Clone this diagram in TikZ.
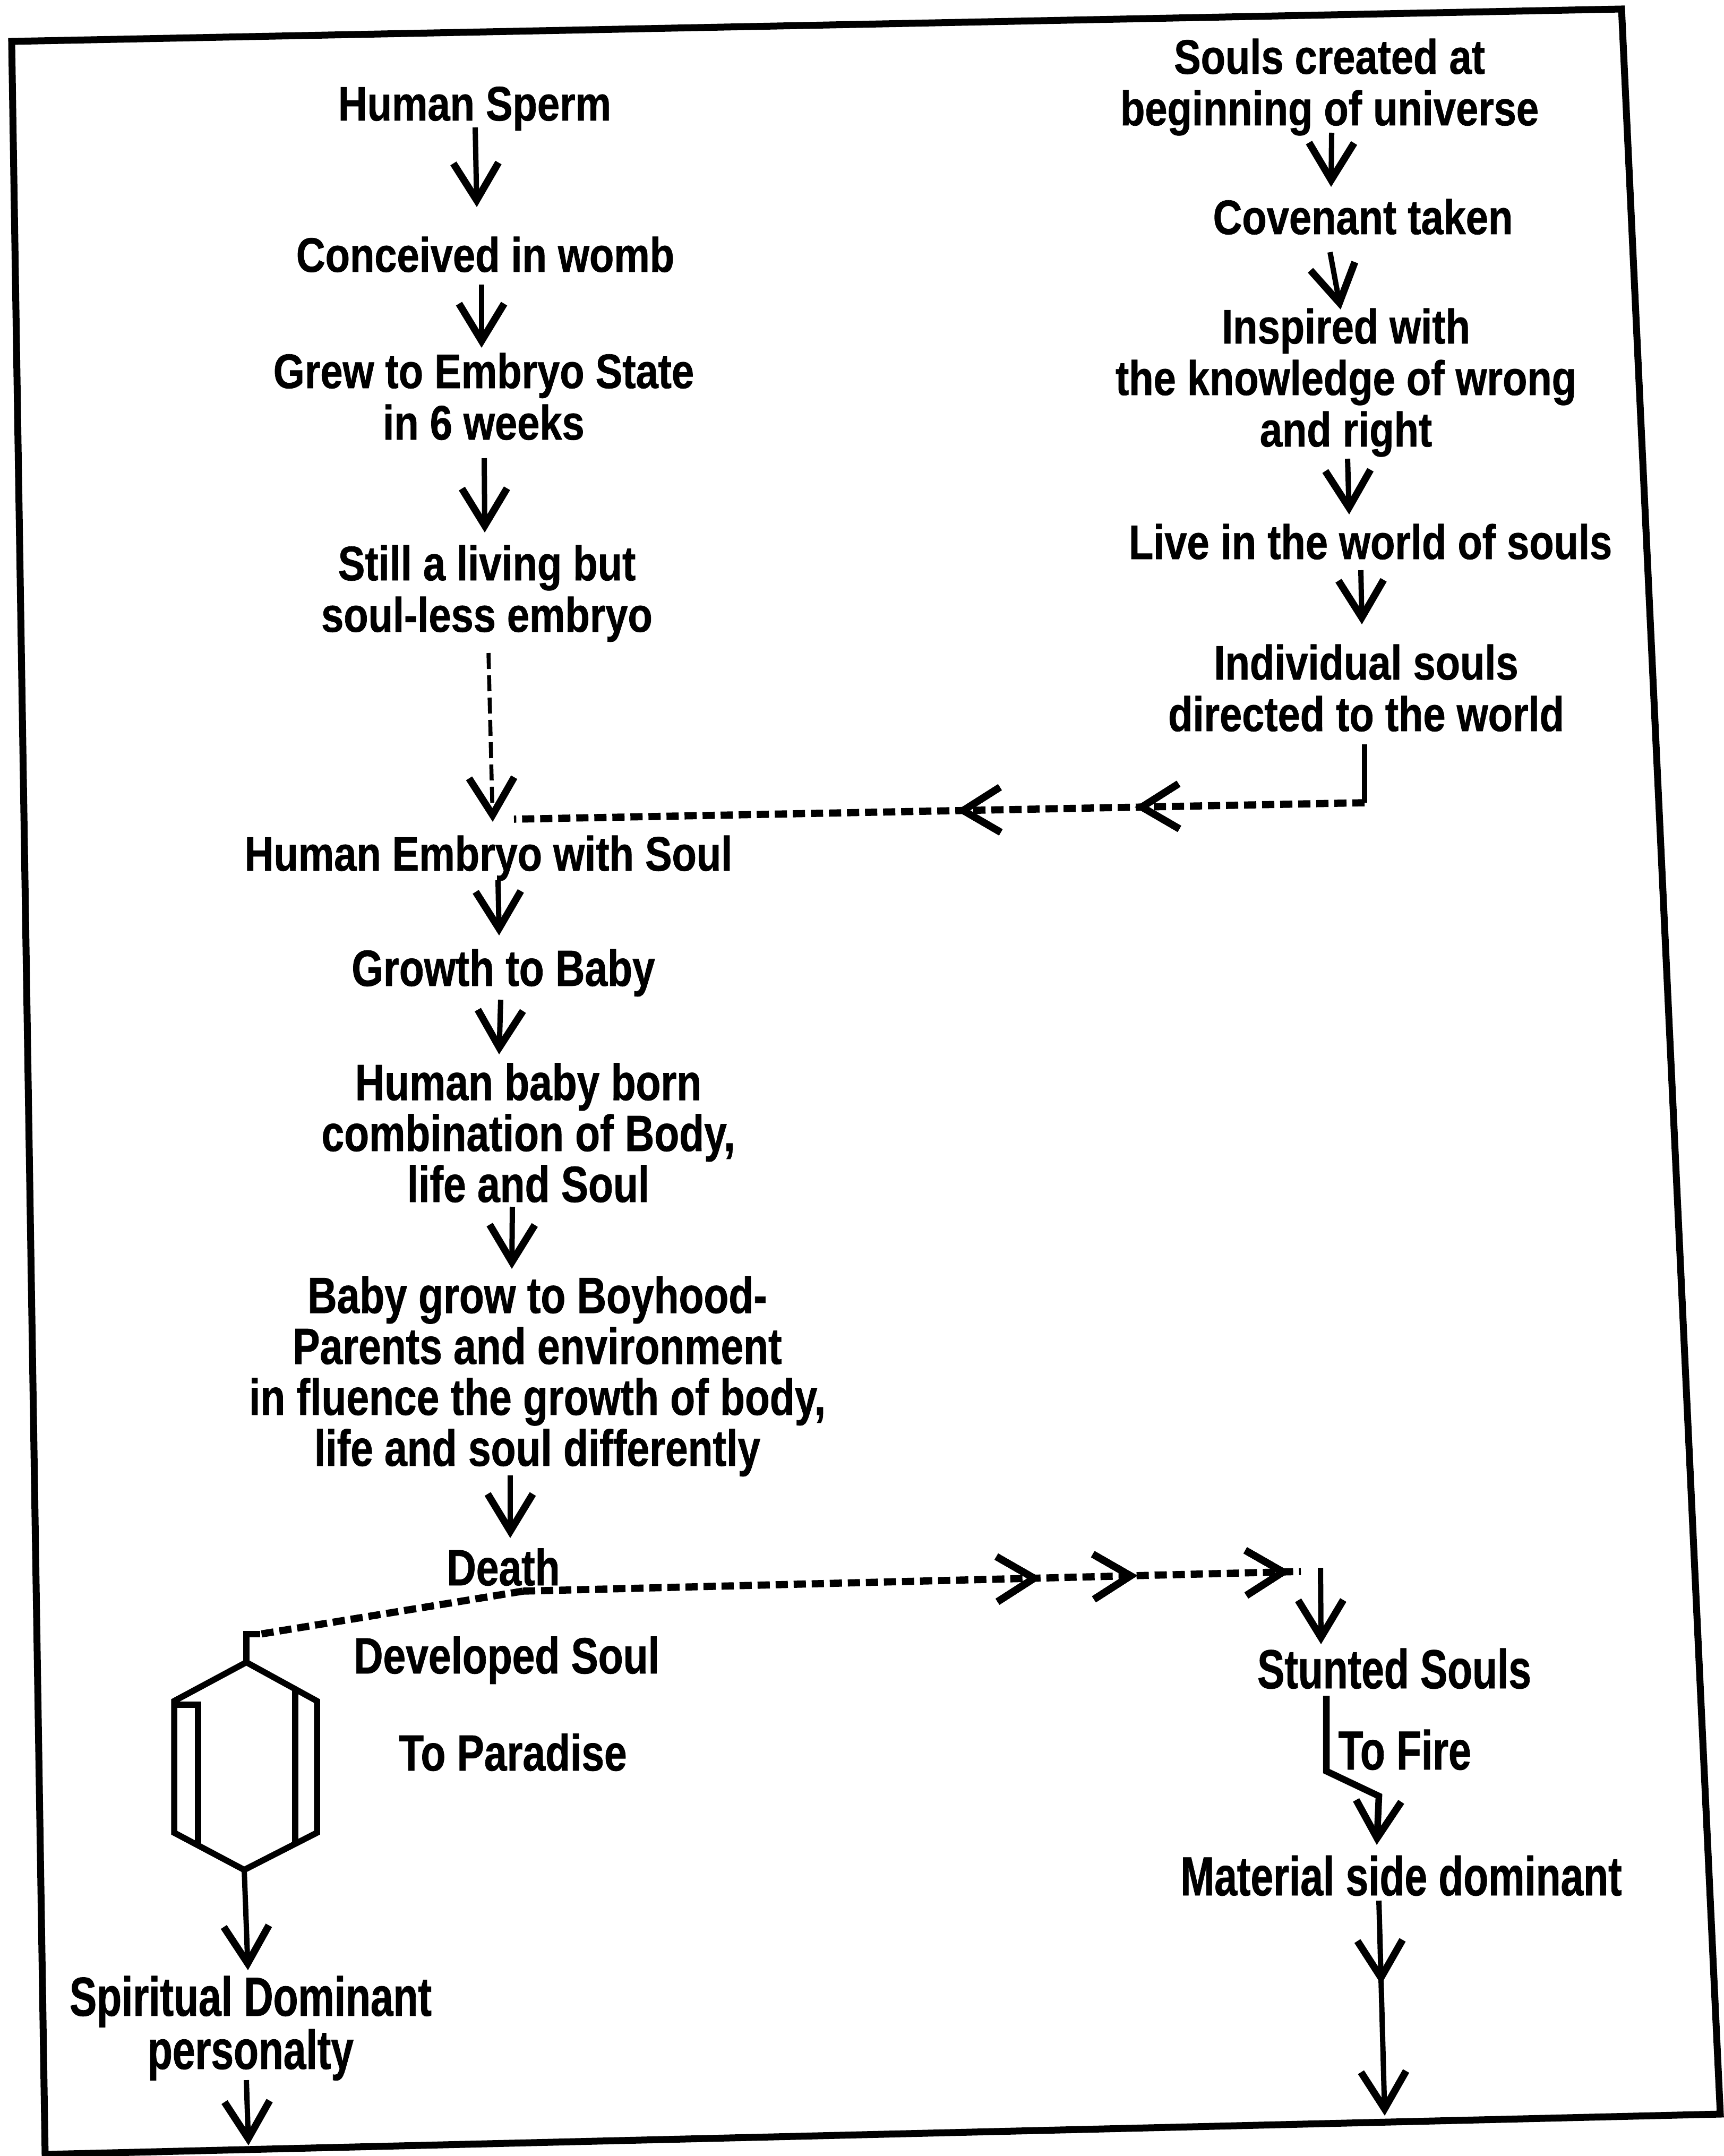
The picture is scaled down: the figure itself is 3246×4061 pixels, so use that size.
\documentclass[tikz,border=0pt]{standalone}
\usepackage{fontspec}
\setmainfont{Liberation Sans}
\newfontfamily\topfont{Liberation Sans}[FakeStretch=0.83,FakeBold=0.8]
\newfontfamily\midfont{Liberation Sans}[FakeStretch=0.80,FakeBold=0.8]
\newfontfamily\lowfont{Liberation Sans}[FakeStretch=0.74,FakeBold=0.8]
\usetikzlibrary{arrows.meta,decorations.markings}

\tikzset{
  Vb/.tip={Straight Barb[length=7mm,width=8.5mm,line width=1.35mm]},
  lbl/.style={inner sep=0pt, anchor=base, align=center},
  toptext/.style={lbl, font=\topfont\bfseries\fontsize{26pt}{27.6pt}\selectfont},
  midtext/.style={lbl, font=\midfont\bfseries\fontsize{27.3pt}{27.3pt}\selectfont},
  lowtext/.style={lbl, font=\lowfont\bfseries\fontsize{29.5pt}{25.6pt}\selectfont},
  flow/.style={line width=1mm, -Vb},
  soulflow/.style={line width=0.75mm, dash pattern=on 3mm off 1.2mm, -Vb},
  dline/.style={line width=1.35mm, dash pattern=on 2.3mm off 1.1mm},
  midtips/.style={postaction={decorate},
    decoration={markings, mark=at position #1 with {\arrow{Vb}}}},
  frame/.style={line width=1.3mm, line join=miter},
  ring/.style={line width=1.15mm, line join=miter},
}

\begin{document}
\begin{tikzpicture}[x=0.1mm,y=-0.1mm]
\useasboundingbox (0,0) rectangle (3246,4061);

% page frame
\draw[frame] (22,78) -- (3054,17) -- (3240,3982) -- (85,4058) -- cycle;

% ---- body line (left); multi-line labels sit on their last baseline ----
\node[toptext] (sperm) at (894,227) {Human Sperm};
\node[toptext] (womb)  at (914,512) {Conceived in womb};
\node[toptext] (grew)  at (911,828) {Grew to Embryo State\\in 6 weeks};
\node[toptext] (still) at (917,1190) {Still a living but\\soul-less embryo};
\node[toptext] (ews)   at (920,1640) {Human Embryo with Soul};
\node[midtext] (gbaby) at (948,1857) {Growth to Baby};
\node[midtext] (born)  at (995,2264) {Human baby born\\combination of Body,\\life and Soul};
\node[midtext] (boy)   at (1012,2761) {Baby grow to Boyhood-\\Parents and environment\\in fluence the growth of body,\\life and soul differently};
\node[midtext] (death) at (948,2986) {Death};
\node[midtext] (devsoul)  at (954,3152) {Developed Soul};
\node[midtext] (paradise) at (966,3335) {To Paradise};
\node[lowtext] (spirit) at (472,3897) {Spiritual Dominant\\personalty};

% ---- soul line (right) ----
\node[toptext] (souls) at (2504,236) {Souls created at\\beginning of universe};
\node[toptext] (cov)   at (2567,441) {Covenant taken};
\node[toptext] (insp)  at (2535,841) {Inspired with\\the knowledge of wrong\\and right};
\node[toptext] (live)  at (2581,1053) {Live in the world of souls};
\node[toptext] (indiv) at (2573,1377) {Individual souls\\directed to the world};
\node[lowtext] (stunted)  at (2626,3180) {Stunted Souls};
\node[lowtext, anchor=base west] (fire) at (2520,3333) {To Fire};
\node[lowtext] (material) at (2639,3570) {Material side dominant};

% junctions and loose ends
\coordinate (jr)    at (2570,1512);
\coordinate (dj)    at ([shift={(37,11)}]death.base);
\coordinate (sturn) at (2487,2953);
\coordinate (htop)  at (464,3078);
\coordinate (hbot)  at (460,3522);
\coordinate (sEnd)  at (468,4041);
\coordinate (mEnd)  at (2608,3985);

% body line arrows
\draw[flow] ([shift={(1,13)}]sperm.base) -- ([shift={(-16,-122)}]womb.base);
\draw[flow] ([shift={(-7,24)}]womb.base) -- ([shift={(-4,-173)}]grew.base);
\draw[flow] ([shift={(1,35)}]grew.base) -- ([shift={(-4,-187)}]still.base);
\draw[soulflow] ([shift={(3,40)}]still.base) -- ([shift={(8,-92)}]ews.base);
\draw[flow] ([shift={(18,18)}]ews.base) -- ([shift={(-8,-95)}]gbaby.base);
\draw[flow] ([shift={(-5,26)}]gbaby.base) -- ([shift={(-55,-278)}]born.base);
\draw[flow] ([shift={(-30,9)}]born.base) -- ([shift={(-48,-371)}]boy.base);
\draw[flow] ([shift={(-51,18)}]boy.base) -- ([shift={(13,-89)}]death.base);

% soul line arrows
\draw[flow] ([shift={(4,14)}]souls.base) -- ([shift={(-60,-89)}]cov.base);
\draw[flow] ([shift={(-62,34)}]cov.base) -- ([shift={(-10,-258)}]insp.base);
\draw[flow] ([shift={(3,23)}]insp.base) -- ([shift={(-40,-84)}]live.base);
\draw[flow] ([shift={(-18,21)}]live.base) -- ([shift={(-8,-201)}]indiv.base);
\draw[line width=1mm] ([shift={(-3,25)}]indiv.base) -- (jr);
\draw[dline, midtips/.list={0.27,0.48}] (jr) -- ([shift={(48,-97)}]ews.base);

% after death
\draw[dline] (dj) -- ([shift={(26,0)}]htop);
\draw[dline, midtips/.list={0.666,0.79,0.986}] (dj) -- ([shift={(-37,7)}]sturn);
\draw[flow] (sturn) -- ([shift={(-138,-83)}]stunted.base);
\draw[line width=1.25mm, line join=miter, -Vb]
  ([shift={(-128,14)}]stunted.base) -- ++(0,142) -- ++(99,47)
  -- ([shift={(-46,-95)}]material.base);
\draw[flow, midtips=0.39] ([shift={(-42,10)}]material.base) -- (mEnd);

% developed soul ring
\draw[ring] (464,3131) -- (328,3204) -- (328,3452) -- (hbot) -- (597,3452) -- (597,3204) -- cycle;
\draw[ring] (328,3211) -- (373,3211) -- (373,3476);
\draw[ring] (556,3181) -- (556,3473);
\draw[ring] (464,3131) -- (htop) -- ++(26,0);
\draw[flow] (hbot) -- ([shift={(-5,-186)}]spirit.base);
\draw[flow] ([shift={(-8,21)}]spirit.base) -- (sEnd);
\end{tikzpicture}
\end{document}
